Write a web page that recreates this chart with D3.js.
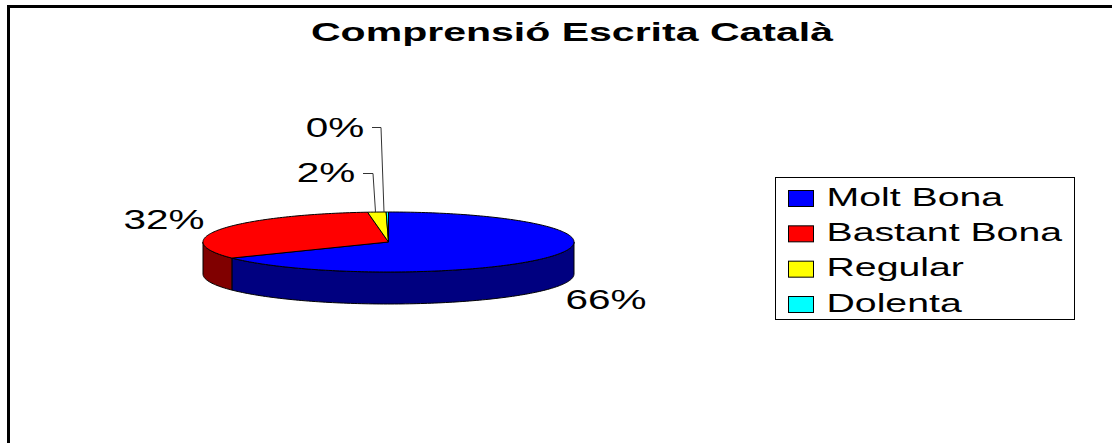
<!DOCTYPE html>
<html>
<head>
<meta charset="utf-8">
<script src="https://cdn.jsdelivr.net/npm/d3@7"></script>
<style>
  html, body { margin: 0; padding: 0; background: #fff; }
  text { font-family: "Liberation Sans", Arial, sans-serif; fill: #000; }
</style>
</head>
<body>
<div id="chart"></div>
<script>
var categories = ["Molt Bona", "Bastant Bona", "Regular", "Dolenta"];
var values = [66, 32.2, 1.6, 0.2];
var topColors = ["#0000ff", "#ff0000", "#ffff00", "#00ffff"];
var sideColors = ["#000080", "#800000", "#808000", "#008080"];

var width = 1112;
var height = 443;
var depth = 32;
var labelStretch = 1.5; // the source picture has its text pulled wide
var legendStretch = 1.57;

var svg = d3.select("#chart").append("svg").attr("width", width).attr("height", height);

svg.append("rect").attr("width", width).attr("height", height).attr("fill", "#fff");

// frame, only top and left are visible in the picture
svg.append("path").attr("d", "M8.5,443V6.5H1112").attr("fill", "none").attr("stroke", "#000").attr("stroke-width", 3);

svg.append("text").attr("x", 311).attr("y", 41)
  .attr("font-size", 25.5).attr("font-weight", "bold")
  .attr("textLength", 522).attr("lengthAdjust", "spacingAndGlyphs")
  .text("Comprensió Escrita Català");

var xscale = d3.scaleLinear().domain([-1, 1]).range([203, 574]);
var yscale = d3.scaleLinear().domain([-1, 1]).range([212, 272]);

var slices = d3.pie().sort(null)(values);

function px(a) { return xscale(Math.sin(a)); }
function py(a) { return yscale(-Math.cos(a)); }

function sampleAngles(a0, a1) {
  var n = Math.max(2, Math.ceil((a1 - a0) / 0.02));
  return d3.range(n + 1).map(function(i) { return a0 + (a1 - a0) * i / n; });
}

var topLine = d3.line().x(px).y(py);
var wall = d3.area().x(px).y0(py).y1(function(a) { return py(a) + depth; });

// walls, only the front half of the ellipse shows
slices.forEach(function(s, i) {
  var a0 = Math.max(s.startAngle, Math.PI / 2);
  var a1 = Math.min(s.endAngle, Math.PI * 1.5);
  if (a1 <= a0) return;
  svg.append("path").attr("d", wall(sampleAngles(a0, a1)))
    .attr("fill", sideColors[i]).attr("stroke", "#000").attr("stroke-width", 1);
});

// top face
slices.forEach(function(s, i) {
  var d = "M" + xscale(0) + "," + yscale(0) + "L" + topLine(sampleAngles(s.startAngle, s.endAngle)).slice(1) + "Z";
  svg.append("path").attr("d", d).attr("fill", topColors[i]).attr("stroke", "#000").attr("stroke-width", 1);
});

// percent labels
var labelX = [606, 164, 326, 335];
var labelY = [309, 229, 182, 137];
var fmt = function(v) { return d3.format(".0f")(v) + "%"; };
values.forEach(function(v, i) {
  svg.append("text").attr("transform", "translate(" + labelX[i] + "," + labelY[i] + ")scale(" + labelStretch + ",1)")
    .attr("text-anchor", "middle").attr("font-size", 27).text(fmt(v));
});

// leader lines for the two small slices
var leaderPoints = [
  [[363, 173.5], [373, 173.5], [375.5, 212]],
  [[372, 127.5], [381, 127.5], [384, 212]]
];
leaderPoints.forEach(function(p) {
  svg.append("path").attr("d", d3.line()(p)).attr("fill", "none").attr("stroke", "#333").attr("stroke-width", 1);
});

// legend
var legend = svg.append("g").attr("transform", "translate(775.5,177.5)");
legend.append("rect").attr("width", 299).attr("height", 142).attr("fill", "#fff").attr("stroke", "#000").attr("stroke-width", 1);

var row = d3.scalePoint().domain(categories).range([0, 106]);
categories.forEach(function(c, i) {
  var g = legend.append("g").attr("transform", "translate(0," + (13 + row(c)) + ")");
  g.append("rect").attr("x", 13).attr("y", 0).attr("width", 25).attr("height", 16)
    .attr("fill", topColors[i]).attr("stroke", "#000").attr("stroke-width", 1);
  g.append("text").attr("transform", "translate(51,15)scale(" + legendStretch + ",1)").attr("font-size", 25).text(c);
});
</script>
</body>
</html>
